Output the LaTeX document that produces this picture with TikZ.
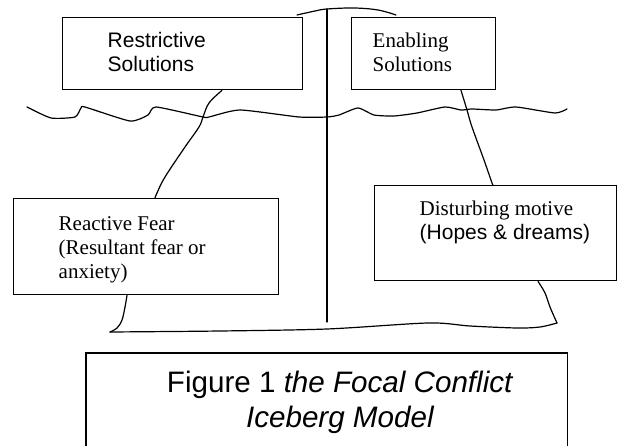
\documentclass[tikz,border=0pt]{standalone}
\usepackage{fontspec}
\setmainfont{Liberation Serif}
\setsansfont{Liberation Sans}
\newcommand{\bxtext}[5]{\parbox[c][#2][t]{#1}{\vspace*{#3}\raggedright\leftskip=#4\relax\fontsize{21}{24}\selectfont #5}}
\tikzset{
  box/.style={draw, line width=1.4pt, inner sep=0pt, anchor=north west},
  ink/.style={line width=1.2pt, line join=round, line cap=round},
}
\begin{document}
\begin{tikzpicture}[x=1pt,y=-1pt]
\useasboundingbox (0,0) rectangle (618,446);

% boxes
\node[box, minimum width=240pt, minimum height=72pt] (R) at (62,17)
  {\bxtext{240pt}{72pt}{13.2pt}{45pt}{\sffamily\strut Restrictive\\\strut Solutions}};
\node[box, minimum width=144pt, minimum height=72pt] (E) at (351,17)
  {\bxtext{144pt}{72pt}{13.2pt}{21pt}{\strut Enabling\\\strut Solutions}};
\node[box, minimum width=265pt, minimum height=96pt] (F) at (13,198)
  {\bxtext{265pt}{96pt}{15.2pt}{45pt}{\strut Reactive Fear\\\strut (Resultant fear or\\\strut anxiety)}};
\node[box, minimum width=242pt, minimum height=95pt] (D) at (374,185)
  {\bxtext{242pt}{95pt}{13.2pt}{45pt}{\strut Disturbing motive\\\strut\sffamily (Hopes \& dreams)}};

% caption
\node[inner sep=0pt, anchor=north west, minimum width=481pt, minimum height=95pt] (cap) at (86,353)
  {\parbox[c][95pt][t]{481pt}{\vspace*{14.5pt}\centering\leftskip=27pt plus 1fil\relax\sffamily\fontsize{29.6}{35}\selectfont
   \strut Figure 1 \textit{the Focal Conflict}\\\strut\textit{Iceberg Model}}};
\draw[line width=1.4pt] (cap.south west) -- (cap.north west) -- (cap.north east) -- (cap.south east);

% iceberg top hump and centre line
\draw[ink] plot[smooth, tension=0.6] coordinates {(297,15) (315,11) (327,9) (354,8) (378,10) (396,15)};
\draw[ink] (327,9) -- (327,322);

% water line
\draw[ink] plot[smooth, tension=0.35] coordinates {
  (27,107) (51,118) (75,117) (81,108) (85,107) (130,121) (148,115) (156,107)
  (203,117) (209,117) (240,110) (299,117) (327,117) (339,115) (358,108) (374,115)
  (394,116) (417,113) (445,107) (461,110) (472,109) (496,110) (516,107) (555,113) (567,109)};

% connectors
\draw[ink] plot[smooth, tension=0.6] coordinates {
  ([xshift=160pt]R.south west) (209,103) (203,117) (199,127) (185,147) (165,177) (157,193) ([xshift=142pt]F.north west)};
\draw[ink] plot[smooth, tension=0.6] coordinates {
  ([xshift=110pt]E.south west) (467,110) (472,127) (484,160) (492,183) ([xshift=119pt]D.north west)};

% iceberg bottom outline
\draw[ink] plot[smooth, tension=0.6] coordinates {
  ([xshift=114pt]F.south west) (125,307) (122,320) (117,328) (110,332)};
\draw[ink] plot[smooth, tension=0.5] coordinates {
  (110,332) (220,331) (327,329) (428,323) (470,326) (517,328) (540,327) (557,323)};
\draw[ink] plot[smooth, tension=0.6] coordinates {
  (557,323) (550,307) (545,293) ([xshift=164pt]D.south west)};
\end{tikzpicture}
\end{document}
